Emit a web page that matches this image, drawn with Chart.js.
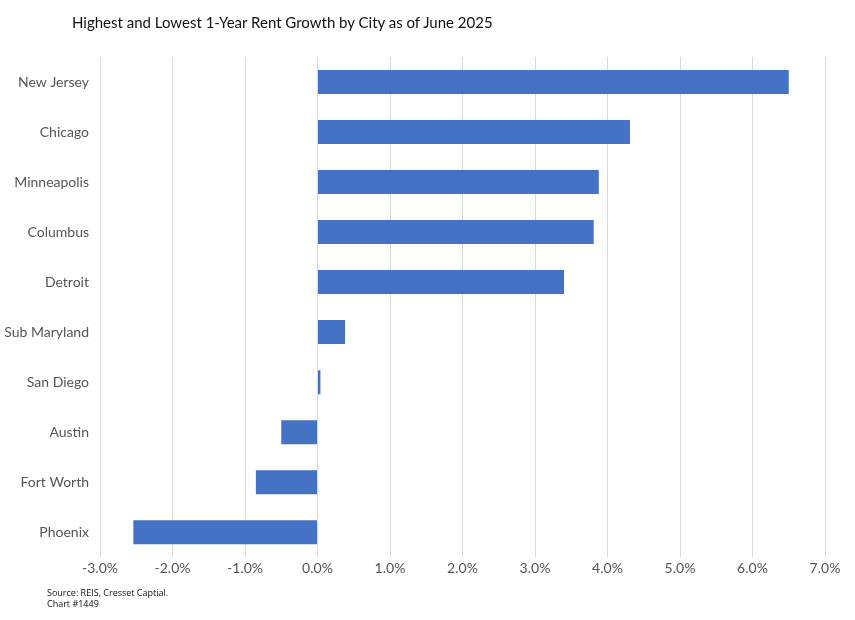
<!DOCTYPE html>
<html><head><meta charset="utf-8">
<script src="https://cdn.jsdelivr.net/npm/chart.js@4"></script>
<style>body{margin:0;background:#fff;}#w{position:relative;width:855px;height:620px;}
#t{position:absolute;left:72px;top:13px;font:15px Lato, 'Open Sans', sans-serif;color:#111;}
#s{position:absolute;left:47px;top:587px;font:9px 'Open Sans',sans-serif;color:#111;line-height:11px;}</style>
</head><body><div id="w"><canvas id="c" width="855" height="620"></canvas>
<div id="t">Highest and Lowest 1-Year Rent Growth by City as of June 2025</div>
<div id="s">Source: REIS, Cresset Captial.<br>Chart #1449</div></div>
<script>
const categories=["New Jersey","Chicago","Minneapolis","Columbus","Detroit","Sub Maryland","San Diego","Austin","Fort Worth","Phoenix"];
const values=[6.50,4.31,3.88,3.81,3.40,0.38,0.04,-0.50,-0.85,-2.54];
new Chart(document.getElementById('c'),{type:'bar',
data:{labels:categories,datasets:[{data:values,backgroundColor:'#4472C4',categoryPercentage:1,barPercentage:0.48}]},
options:{indexAxis:'y',responsive:false,animation:false,
layout:{padding:{top:57,left:0,right:30,bottom:40}},
plugins:{legend:{display:false},tooltip:{enabled:false}},
scales:{x:{min:-3,max:7,ticks:{stepSize:1,color:'#555',font:{family:'Lato',size:14},callback:v=>v.toFixed(1)+'%'},grid:{color:'#d9d9d9',drawTicks:false},border:{display:false}},
y:{afterFit:s=>{s.width=100;},ticks:{color:'#555',font:{family:'Lato',size:14}},grid:{display:false},border:{display:false}}}}});
</script></body></html>
